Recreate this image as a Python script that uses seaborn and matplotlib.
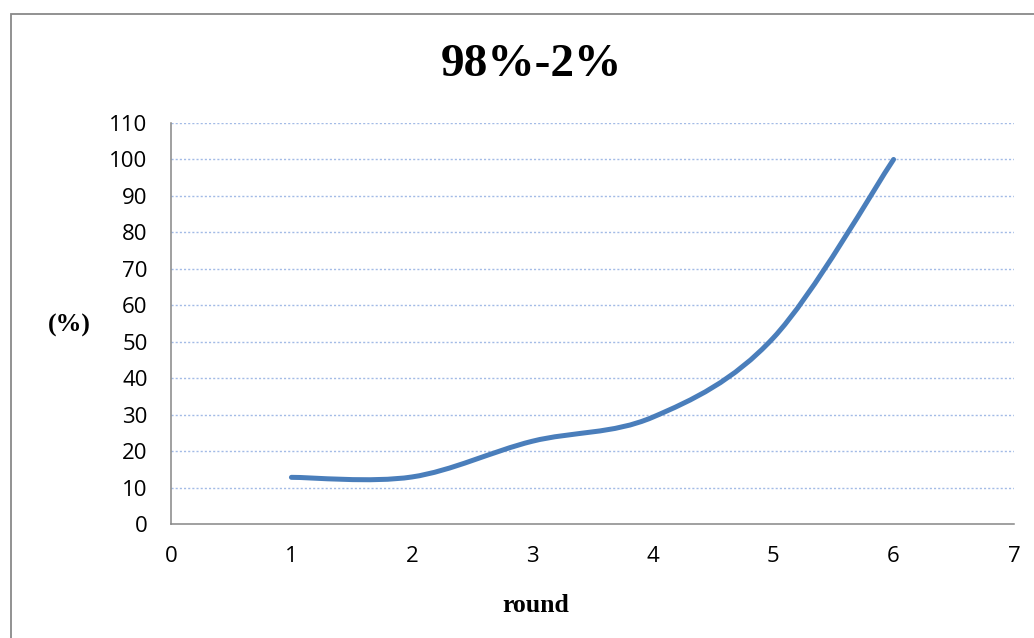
import numpy as np
import matplotlib
matplotlib.use("Agg")
import matplotlib.pyplot as plt
from matplotlib.path import Path
from matplotlib.patches import PathPatch, Rectangle
import seaborn as sns

rounds = [1, 2, 3, 4, 5, 6]
values = [12.8, 12.9, 22.7, 29.3, 51.0, 100.0]
x_ticks = [0, 1, 2, 3, 4, 5, 6, 7]
y_ticks = [0, 10, 20, 30, 40, 50, 60, 70, 80, 90, 100, 110]
title = "98%-2%"
x_label = "round"
y_label = "(%)"

LINE = "#4a7ebb"
AXIS = "#868686"
GRID = "#a3bbe6"


def smooth_path(xs, ys):
    # Excel-style smoothed line: Catmull-Rom turned into cubic Bezier segments
    pts = np.column_stack([xs, ys]).astype(float)
    ext = np.vstack([pts[0], pts, pts[-1]])
    verts = [tuple(pts[0])]
    codes = [Path.MOVETO]
    for i in range(1, len(ext) - 2):
        p0, p1, p2, p3 = ext[i - 1], ext[i], ext[i + 1], ext[i + 2]
        c1 = p1 + (p2 - p0) / 6.0
        c2 = p2 - (p3 - p1) / 6.0
        verts += [tuple(c1), tuple(c2), tuple(p2)]
        codes += [Path.CURVE4] * 3
    return Path(verts, codes)


sns.set_style("white")
plt.rcParams['font.family'] = ['Open Sans', 'DejaVu Sans']
plt.rcParams['text.color'] = 'black'

fig = plt.figure(figsize=(10.34, 6.38), dpi=100)
ax = fig.add_axes([171 / 1034, 1 - 524 / 638, (1014 - 171) / 1034, (524 - 123) / 638])

ax.set_xlim(0, 7)
ax.set_ylim(0, 110)
ax.set_xticks(x_ticks)
ax.set_yticks(y_ticks)

for v in y_ticks[1:]:
    ax.axhline(v, color=GRID, lw=1.0, ls=(0, (1.5, 1.5)), zorder=1)

patch = PathPatch(smooth_path(rounds, values), facecolor="none", edgecolor=LINE,
                  lw=3.6, capstyle="round", joinstyle="round", zorder=3)
ax.add_patch(patch)

sns.despine(ax=ax)
for s in ["left", "bottom"]:
    ax.spines[s].set_color(AXIS)
    ax.spines[s].set_linewidth(1.1)
ax.tick_params(axis="both", direction="out", length=5.8, width=1.1, color=AXIS,
               labelsize=16, labelcolor="black")
ax.tick_params(axis="y", pad=11)
ax.tick_params(axis="x", pad=10)
ax.grid(False)

serif = ['Liberation Serif', 'DejaVu Serif']
fig.text(531 / 1034, 1 - 65 / 638, title, family=serif, fontweight="bold",
         fontsize=34, ha="center", va="center", color="black")
fig.text(69 / 1034, 1 - 325 / 638, y_label, family=serif, fontweight="bold",
         fontsize=18.5, ha="center", va="center", color="black")
fig.text(536 / 1034, 1 - 605 / 638, x_label, family=serif, fontweight="bold",
         fontsize=18.5, ha="center", va="center", color="black")

fig.patches.append(Rectangle((11 / 1034, -0.2), 2, 1.2 - 14 / 638, transform=fig.transFigure,
                             fill=False, edgecolor="#898989", lw=1.3))

fig.savefig("out.png", dpi=100)
